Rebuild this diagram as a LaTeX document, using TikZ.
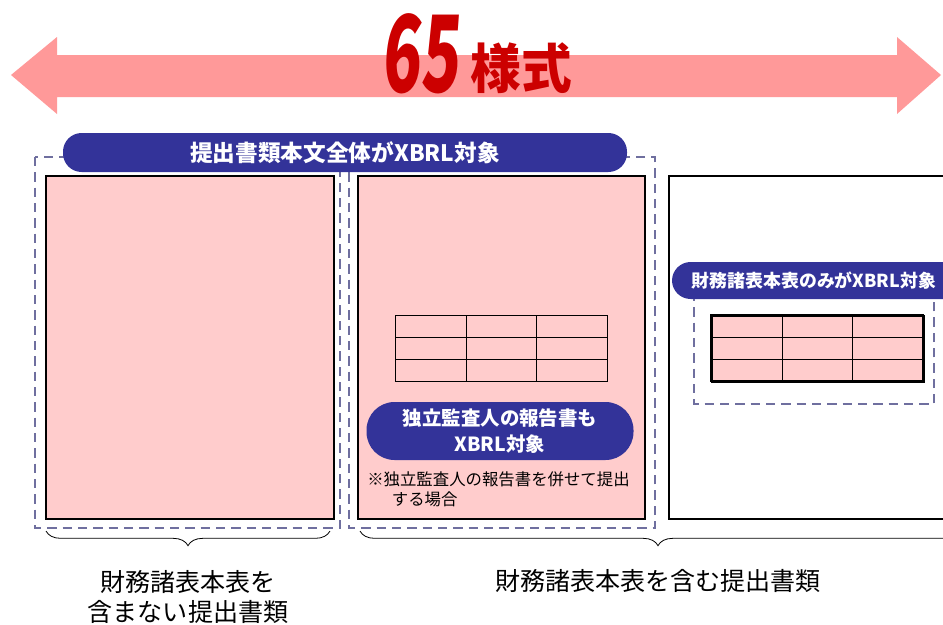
\documentclass[tikz,border=0pt]{standalone}
\usepackage{fontspec}
\setmainfont{Noto Sans CJK JP}
\usetikzlibrary{decorations.pathreplacing,calc}
\definecolor{arrowpink}{HTML}{FF9999}
\definecolor{titlered}{HTML}{CC0000}
\definecolor{bandblue}{HTML}{333399}
\definecolor{dashpurple}{HTML}{6F6F9F}
\definecolor{docpink}{HTML}{FFCCCC}
\tikzset{
  docbox/.style={draw=black,line width=1.6pt},
  dashbox/.style={draw=dashpurple,dash pattern=on 7pt off 4.5pt,line width=2pt},
  band/.style={fill=bandblue,text=white,font=\bfseries,inner sep=0pt},
  gridline/.style={draw=black,line width=0.7pt},
  bracestyle/.style={draw=black,line width=0.6pt,decorate,decoration={brace,amplitude=11pt,mirror}},
  label/.style={font=\fontsize{18.8}{22}\selectfont,align=center,inner sep=0pt}
}
\begin{document}
\begin{tikzpicture}[x=0.75pt,y=-0.75pt]
\clip (0,0) rectangle (943,625);
\fill[white] (0,0) rectangle (943,625);
% big double arrow
\fill[arrowpink] (11,75) -- (57,37) -- (57,55) -- (897,55) -- (897,37) -- (941,75)
  -- (897,114) -- (897,97) -- (57,97) -- (57,114) -- cycle;
\node[text=titlered,font=\bfseries\fontsize{80}{80}\selectfont,inner sep=0pt,anchor=base,xscale=0.6,xslant=0.12] (num) at (420,92) {65};
\node[text=titlered,font=\bfseries\fontsize{40}{40}\selectfont,inner sep=0pt,anchor=base,xscale=0.95] (yoshiki) at (521,88) {様式};
% dashed groups
\draw[dashbox] (35,157) rectangle (340,528);
\draw[dashbox] (349,157) rectangle (655,528);
% documents
\node[docbox,fill=docpink,minimum width=288*0.75pt,minimum height=343*0.75pt,anchor=north west,inner sep=0pt] (docA) at (45,175) {};
\node[docbox,fill=docpink,minimum width=287*0.75pt,minimum height=343*0.75pt,anchor=north west,inner sep=0pt] (docB) at (357,175) {};
\node[docbox,fill=white,minimum width=300*0.75pt,minimum height=343*0.75pt,anchor=north west,inner sep=0pt] (docC) at (668,175) {};
% top banner
\node[band,rounded corners=14pt,minimum width=564*0.75pt,minimum height=39*0.75pt,font=\bfseries\fontsize{17}{17}\selectfont] (topband) at (345,152.5) {提出書類本文全体がXBRL対象};
% middle table
\draw[gridline] (395,315) rectangle (607,381);
\draw[gridline] (395,337) -- (607,337) (395,359) -- (607,359) (466,315) -- (466,381) (536,315) -- (536,381);
% pill
\node[band,rounded corners=21pt,minimum width=267*0.75pt,minimum height=58*0.75pt,align=center,font=\bfseries\fontsize{14.6}{19}\selectfont] (pill) at (500,431) {独立監査人の報告書も\\XBRL対象};
\node[anchor=north west,inner sep=0pt,align=left,font=\fontsize{12.3}{15}\selectfont] (note) at (367,471) {※独立監査人の報告書を併せて提出\\\hspace*{1.5em}する場合};
% right side
\draw[dashbox] (694,292) rectangle (934,404);
\fill[bandblue,rounded corners=14pt] (672,262) rectangle (980,299);
\node[text=white,font=\bfseries\fontsize{13.4}{13}\selectfont,inner sep=0pt] (rband) at (814,281) {財務諸表本表のみがXBRL対象};
\node[draw=black,line width=1.6pt,fill=docpink,minimum width=212*0.75pt,minimum height=66*0.75pt,anchor=north west,inner sep=0pt] (rtable) at (711,315) {};
\draw[gridline] (711,337) -- (923,337) (711,359) -- (923,359) (782,315) -- (782,381) (852,315) -- (852,381);
\draw[line width=1.6pt] (711,315) rectangle (923,381);
% braces
\coordinate (b1s) at (46,531);
\coordinate (b1e) at (330,531);
\coordinate (b2s) at (360,531);
\coordinate (b2e) at (956,531);
\draw[bracestyle] (b1s) -- (b1e);
\draw[bracestyle] (b2s) -- (b2e);
\node[label] (lab1) at (188,597) {財務諸表本表を\\含まない提出書類};
\node[label] (lab2) at (658,581) {財務諸表本表を含む提出書類};
\end{tikzpicture}
\end{document}
